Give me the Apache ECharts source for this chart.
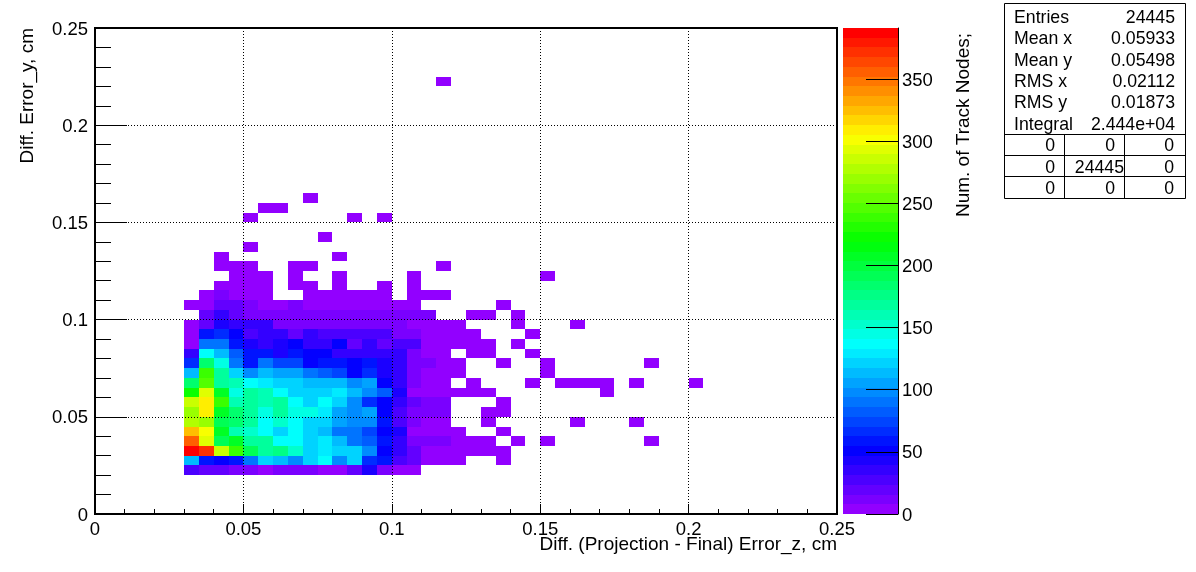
<!DOCTYPE html>
<html>
<head>
<meta charset="utf-8">
<style>html,body{margin:0;padding:0;background:#fff}#c{width:1196px;height:572px}</style>
<script src="https://cdn.jsdelivr.net/npm/echarts@6/dist/echarts.min.js"></script>
</head>
<body>
<div id="c"></div>
<script>
const binWidth = 0.005;
const colorMax = 391;
const firstColumn = 6;
// Each row: y-bin index, then counts for x bins 6..24 (0 = empty)
const row04 = [27,20,20,10,10,3,8,8,10,3,3,22,42,8,3,3,0,0,0];
const row05 = [110,60,50,55,90,120,110,98,122,137,98,125,68,55,28,18,3,3,3];
const row06 = [388,375,288,238,195,170,175,155,122,128,118,120,98,48,38,18,5,5,5];
const row07 = [358,297,190,205,165,170,137,137,120,130,112,90,85,55,38,15,15,12,3];
const row08 = [327,300,205,158,150,137,125,135,125,112,90,90,78,48,42,4,4,4,4];
const row09 = [278,272,195,185,170,137,150,137,125,125,108,95,95,60,24,15,5,5,0];
const row10 = [270,305,210,180,170,145,172,147,147,130,108,98,105,52,28,15,8,15,0];
const row11 = [288,307,235,158,170,158,165,140,120,137,122,98,68,52,32,16,8,8,0];
const row12 = [222,297,210,145,170,162,135,125,118,120,132,115,100,85,42,3,3,3,3];
const row13 = [185,248,170,162,137,130,118,118,110,110,115,95,105,48,32,10,3,3,0];
const row14 = [112,238,165,125,98,110,102,102,90,85,78,50,65,40,32,10,4,4,4];
const row15 = [68,185,145,90,60,90,75,75,48,60,60,48,55,46,32,8,8,3,3];
const row16 = [35,137,115,85,55,55,42,62,52,48,33,38,38,38,32,8,3,3,0];
const row17 = [2,90,90,55,40,33,42,50,33,33,50,22,32,22,28,28,3,3,3];
const row18 = [2,55,65,48,28,38,38,22,38,28,28,28,28,28,14,14,3,3,3];
const row19 = [2,22,45,38,33,33,12,10,12,10,10,10,10,10,10,3,3,3,3];
const row20 = [0,20,32,22,10,10,10,10,10,8,8,8,8,8,8,8,8,0,0];
const row21 = [2,2,20,18,8,3,3,8,3,3,3,3,3,3,3,3,0,0,0];
const row22 = [0,3,8,3,3,3,0,0,3,3,3,3,3,3,0,3,3,3,0];
const denseRows = [row04,row05,row06,row07,row08,row09,row10,row11,row12,row13,row14,row15,row16,row17,row18,row19,row20,row21,row22];
const firstRow = 4;
// Isolated low-count bins: y-bin index -> x-bin indices
const sparseRows = [
  [5,[27]],[6,[25,26,27]],[7,[25,26,28,30,37]],[8,[27]],[9,[26,32,36]],[10,[26,27]],[11,[27]],
  [12,[25,26,34]],[13,[25,29,31,32,33,34,36,40]],[14,[30]],[15,[27,30,37]],[16,[25,26,29]],
  [17,[25,26,28]],[18,[25,29]],[19,[28,32]],[20,[25,26,28]],[21,[27]],
  [23,[8,9,10,11,13,14,16,19,21]],[24,[9,10,11,13,16,21,30]],[25,[8,9,10,13,14,23]],
  [26,[8,16]],[27,[10]],[28,[15]],[30,[10,17,19]],[31,[11,12]],[32,[14]],[44,[23]]
];
const sparseCount = 2;
const colorTicks = [0,50,100,150,200,250,300,350];
const statNames = ['Entries','Mean x','Mean y','RMS x','RMS y','Integral'];
const statValues = ['24445','0.05933','0.05498','0.02112','0.01873','2.444e+04'];
const cellRows = [['0','0','0'],['0','24445','0'],['0','0','0']];

const paletteSize = 50;
const palette = [];
for (let i = 0; i < paletteSize; i++) palette.push('hsl(' + (280 - (i + 1) * 5.6) + ',100%,50%)');
const colorOf = v => palette[Math.min(paletteSize - 1, Math.floor(v / colorMax * paletteSize))];

const cells = [];
denseRows.forEach((row, r) => row.forEach((v, c) => {
  if (v > 0) {
    const k = firstColumn + c, j = firstRow + r;
    cells.push([k * binWidth, j * binWidth, (k + 1) * binWidth, (j + 1) * binWidth, v]);
  }
}));
sparseRows.forEach(([j, ks]) => ks.forEach(k => {
  cells.push([k * binWidth, j * binWidth, (k + 1) * binWidth, (j + 1) * binWidth, sparseCount]);
}));
const bands = palette.map((_, i) => [0, i * colorMax / paletteSize, 1, (i + 1) * colorMax / paletteSize, (i + 0.5) * colorMax / paletteSize]);

function renderCell(params, api) {
  const a = api.coord([api.value(0), api.value(1)]);
  const b = api.coord([api.value(2), api.value(3)]);
  const x0 = Math.round(a[0]), x1 = Math.round(b[0]), y0 = Math.round(b[1]), y1 = Math.round(a[1]);
  return {type: 'rect', shape: {x: x0, y: y0, width: x1 - x0, height: y1 - y0},
    style: {fill: colorOf(api.value(4))}};
}

const FONT = '"Liberation Sans", Arial, Helvetica, sans-serif';
const boxL = 1004, boxR = 1185, boxT = 3, boxB = 198;
const lineStyle = {stroke: '#000', lineWidth: 1};
const gfx = [{type: 'rect', shape: {x: boxL + 0.5, y: boxT + 0.5, width: boxR - boxL, height: boxB - boxT}, style: {fill: '#fff', stroke: '#000', lineWidth: 1}}];
statNames.forEach((n, i) => {
  const y = 18 + i * 21.35;
  gfx.push({type: 'text', x: 1014, y, style: {text: n, font: '17.7px ' + FONT, fill: '#000', textAlign: 'left', textVerticalAlign: 'middle'}});
  gfx.push({type: 'text', x: 1175, y, style: {text: statValues[i], font: '17.7px ' + FONT, fill: '#000', textAlign: 'right', textVerticalAlign: 'middle'}});
});
[134.5, 155.5, 176.5].forEach(y => gfx.push({type: 'line', shape: {x1: boxL, y1: y, x2: boxR, y2: y}, style: lineStyle}));
[1064.5, 1124.5].forEach(x => gfx.push({type: 'line', shape: {x1: x, y1: 134.5, x2: x, y2: boxB}, style: lineStyle}));
const cellRight = [[1055,1115,1174],[1055,1124,1174],[1055,1115,1174]];
cellRows.forEach((r, i) => r.forEach((t, c) => {
  gfx.push({type: 'text', x: cellRight[i][c], y: 146.5 + i * 21.5, style: {text: t, font: '17.7px ' + FONT, fill: '#000', textAlign: 'right', textVerticalAlign: 'middle'}});
}));

const chart = echarts.init(document.getElementById('c'), null, {renderer: 'canvas'});
chart.setOption({
  animation: false,
  backgroundColor: '#fff',
  textStyle: {fontFamily: FONT},
  grid: [
    {left: 95, top: 28, width: 742, height: 486, show: true, borderColor: '#000', borderWidth: 2, backgroundColor: '#fff'},
    {left: 843, top: 28, width: 55, height: 486, show: false}
  ],
  xAxis: [
    {gridIndex: 0, type: 'value', min: 0, max: 0.25, interval: 0.05, z: 5,
     name: 'Diff. (Projection - Final) Error_z, cm', nameLocation: 'end', nameGap: 0, nameMoveOverlap: false,
     nameTextStyle: {fontSize: 19, color: '#000', align: 'right', verticalAlign: 'top', padding: [21, 0, 0, 0], fontFamily: FONT},
     axisLine: {show: true, onZero: false, lineStyle: {color: '#000', width: 2}},
     axisTick: {show: true, inside: true, length: 10, lineStyle: {color: '#000', width: 1}},
     minorTick: {show: true, splitNumber: 5, length: 5, lineStyle: {color: '#000', width: 1}},
     axisLabel: {color: '#000', fontSize: 18.5, margin: 6, fontFamily: FONT, showMinLabel: true, showMaxLabel: true, hideOverlap: false,
       formatter: v => String(+v.toFixed(2))},
     splitLine: {show: true, showMinLine: false, showMaxLine: false, lineStyle: {color: '#000', width: 1, type: [1, 2]}}},
    {gridIndex: 1, type: 'value', min: 0, max: 1, show: false}
  ],
  yAxis: [
    {gridIndex: 0, type: 'value', min: 0, max: 0.25, interval: 0.05, z: 5,
     name: 'Diff. Error_y, cm', nameLocation: 'end', nameRotate: 90, nameGap: 0, nameMoveOverlap: false,
     nameTextStyle: {fontSize: 19, color: '#000', align: 'right', verticalAlign: 'bottom', padding: [0, 0, 58, 0], fontFamily: FONT},
     axisLine: {show: true, onZero: false, lineStyle: {color: '#000', width: 2}},
     axisTick: {show: true, inside: true, length: 32, lineStyle: {color: '#000', width: 1}},
     minorTick: {show: true, splitNumber: 5, length: 16, lineStyle: {color: '#000', width: 1}},
     axisLabel: {color: '#000', fontSize: 18.5, margin: 7, verticalAlign: 'top', lineHeight: 3, fontFamily: FONT, showMinLabel: true, showMaxLabel: true, hideOverlap: false,
       formatter: v => String(+v.toFixed(2))},
     splitLine: {show: true, showMinLine: false, showMaxLine: false, lineStyle: {color: '#000', width: 1, type: [1, 2]}}},
    {gridIndex: 1, type: 'value', min: 0, max: colorMax, position: 'right', z: 5,
     name: 'Num. of Track Nodes;', nameLocation: 'end', nameRotate: 90, nameGap: -5, nameMoveOverlap: false,
     nameTextStyle: {fontSize: 19, color: '#000', align: 'right', verticalAlign: 'top', padding: [56, 0, 0, 0], fontFamily: FONT},
     axisLine: {show: true, onZero: false, lineStyle: {color: '#000', width: 1}},
     axisTick: {show: true, inside: true, length: 32, lineStyle: {color: '#000', width: 1}, customValues: colorTicks},
     minorTick: {show: false},
     axisLabel: {color: '#000', fontSize: 18.5, margin: 4, verticalAlign: 'top', lineHeight: 3, fontFamily: FONT, customValues: colorTicks},
     splitLine: {show: false}}
  ],
  series: [
    {type: 'custom', xAxisIndex: 0, yAxisIndex: 0, data: cells, renderItem: renderCell, silent: true, clip: false,
     encode: {x: [0, 2], y: [1, 3]}},
    {type: 'custom', xAxisIndex: 1, yAxisIndex: 1, data: bands, renderItem: renderCell, silent: true, clip: false,
     encode: {x: [0, 2], y: [1, 3]}}
  ],
  graphic: {elements: gfx}
});
</script>
</body>
</html>
